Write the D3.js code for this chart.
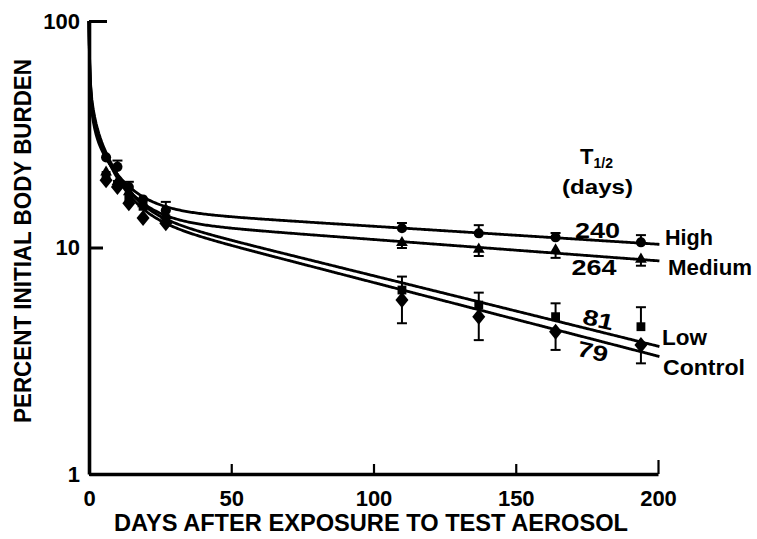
<!DOCTYPE html>
<html>
<head>
<meta charset="utf-8">
<script src="https://cdn.jsdelivr.net/npm/d3@7/dist/d3.min.js"></script>
<style>
  html, body { margin: 0; padding: 0; background: #fff; }
  svg { display: block; }
  text { font-family: "Liberation Sans", Arial, Helvetica, sans-serif; font-weight: bold; fill: #000; }
</style>
</head>
<body>
<svg id="chart" width="757" height="539"></svg>
<script>
// ---- data ----
const groups = ["High", "Medium", "Low", "Control"];
const halfLives = [240, 264, 81, 79];            // terminal T1/2 (days) as annotated
const days = [6, 10, 14, 19, 27, 110, 137, 164, 194];

const highValues    = [25.0, 22.7, 18.5, 16.3, 14.6, 12.16, 11.55, 11.09, 10.54];
const mediumValues  = [21.5, 19.5, 17.6, 15.6, 13.8, 10.50, 9.82, 9.75, 8.87];
const lowValues     = [20.8, 19.0, 16.6, 15.2, 13.4, 6.49, 5.57, 4.95, 4.47];
const controlValues = [19.8, 18.5, 15.7, 13.5, 12.8, 5.87, 4.95, 4.25, 3.71];

// one-sided standard errors (High/Low drawn upward, Medium/Control downward)
const highErr    = [0, 1.5, 1.0, 0, 1.3, 0.67, 1.0, 0.5, 0.8];
const mediumErr  = [0, 0, 0, 0, 0.8, 0.55, 0.65, 0.75, 0.56];
const lowErr     = [0, 0, 0, 0, 0, 0.95, 0.75, 0.72, 0.98];
const controlErr = [0, 0, 0, 0, 0, 1.24, 1.05, 0.72, 0.63];
const errDirection = [1, -1, 1, -1];

// multi-exponential retention fits: % = D e^(-t/0.2) + A e^(-t/tauA) + B e^(-t/tauB) + C 10^(-s t)
const fitSlowIntercept = [14.9, 13.47, 15.36, 14.82];
const fitSlowSlope     = [0.000794, 0.000941, 0.00311, 0.003253]; // log10 units per day
const fitMidAmp        = [19.4, 22.8, 25.4, 24.6];
const fitMidTau        = [9, 9, 7.5, 7.5];
const fitFastAmp       = [16.9, 16.9, 16.9, 16.9];
const fitFastTau       = [1.17, 1.17, 1.17, 1.17];
const fitInitialTau    = 0.2;

const xTicks = [0, 50, 100, 150, 200];
const yTicks = [1, 10, 100];

const seriesValues = [highValues, mediumValues, lowValues, controlValues];
const seriesErr = [highErr, mediumErr, lowErr, controlErr];

// ---- scales ----
const svg = d3.select("#chart");
const x = d3.scaleLinear().domain([0, 200]).range([89, 658]);
const y = d3.scaleLog().domain([1, 100]).range([474, 21]);

function retention(g, t) {
  const C = fitSlowIntercept[g], A = fitFastAmp[g], B = fitMidAmp[g];
  const D = 100 - A - B - C;
  return D * Math.exp(-t / fitInitialTau)
       + A * Math.exp(-t / fitFastTau[g])
       + B * Math.exp(-t / fitMidTau[g])
       + C * Math.pow(10, -fitSlowSlope[g] * t);
}

// ---- axes ----
const xAxis = svg.append("g")
  .attr("transform", `translate(0,${y(1)})`)
  .call(d3.axisBottom(x).tickValues(xTicks).tickSize(-10).tickSizeOuter(0).tickPadding(16)
        .tickFormat(d3.format("d")));
xAxis.selectAll("line").attr("stroke", "#000").attr("stroke-width", 2.2);
xAxis.selectAll(".tick").filter(d => d === 200).select("line").attr("y2", -14);
xAxis.select(".domain").attr("stroke", "#000").attr("stroke-width", 3.4);
xAxis.selectAll("text").style("font-size", "22px").style("font-family", "Liberation Sans, Arial, sans-serif").style("font-weight", "bold");

const yAxis = svg.append("g")
  .attr("transform", `translate(${x(0)},0)`)
  .call(d3.axisLeft(y).tickValues(yTicks).tickSize(-16).tickSizeOuter(0).tickPadding(9)
        .tickFormat(d3.format("d")));
yAxis.selectAll("line").attr("stroke", "#000").attr("stroke-width", 3);
yAxis.selectAll(".tick").filter(d => d === 100).select("line").attr("x2", 18);
yAxis.selectAll(".tick").filter(d => d === 10).select("line").attr("x2", 14);
yAxis.select(".domain").attr("stroke", "#000").attr("stroke-width", 3.6);
yAxis.selectAll("text").style("font-size", "22px").style("font-family", "Liberation Sans, Arial, sans-serif").style("font-weight", "bold");

// axis titles
svg.append("text")
  .attr("x", 371).attr("y", 531)
  .attr("text-anchor", "middle")
  .attr("textLength", 514).attr("lengthAdjust", "spacingAndGlyphs")
  .style("font-size", "24px")
  .text("DAYS AFTER EXPOSURE TO TEST AEROSOL");

svg.append("text")
  .attr("transform", "translate(31,241) rotate(-90)")
  .attr("text-anchor", "middle")
  .attr("textLength", 364).attr("lengthAdjust", "spacingAndGlyphs")
  .style("font-size", "24px")
  .text("PERCENT INITIAL BODY BURDEN");

// ---- fitted curves ----
const tGrid = d3.range(0, 0.5, 0.01).concat(d3.range(0.5, 201, 0.5));
const line = d3.line().x(d => x(d[0])).y(d => y(d[1]));
groups.forEach((name, g) => {
  svg.append("path")
    .datum(tGrid.map(t => [t, retention(g, t)]))
    .attr("fill", "none")
    .attr("stroke", "#000")
    .attr("stroke-width", 2.8)
    .attr("d", line);
});

// ---- error bars ----
groups.forEach((name, g) => {
  const vals = seriesValues[g], errs = seriesErr[g], dir = errDirection[g];
  const eg = svg.append("g");
  days.forEach((d, i) => {
    if (!errs[i]) return;
    const end = vals[i] + dir * errs[i];
    eg.append("line")
      .attr("x1", x(d)).attr("x2", x(d))
      .attr("y1", y(vals[i])).attr("y2", y(end))
      .attr("stroke", "#000").attr("stroke-width", 2);
    eg.append("line")
      .attr("x1", x(d) - 5).attr("x2", x(d) + 5)
      .attr("y1", y(end)).attr("y2", y(end))
      .attr("stroke", "#000").attr("stroke-width", 2);
  });
});

// ---- markers ----
const markerPath = [
  d3.symbol().type(d3.symbolCircle).size(80)(),     // High
  d3.symbol().type(d3.symbolTriangle).size(60)(),   // Medium
  d3.symbol().type(d3.symbolSquare).size(78)(),     // Low
  "M0,-8L6.5,0L0,8L-6.5,0Z"                          // Control
];
groups.forEach((name, g) => {
  svg.append("g").selectAll("path")
    .data(days.map((d, i) => [d, seriesValues[g][i]]))
    .join("path")
    .attr("transform", d => `translate(${x(d[0])},${y(d[1])})`)
    .attr("d", markerPath[g])
    .attr("fill", "#000");
});

// ---- annotations ----
const hdr = svg.append("text").attr("x", 580).attr("y", 164).style("font-size", "22px");
hdr.append("tspan").text("T");
hdr.append("tspan").attr("dy", 4).style("font-size", "14px").text("1/2");

svg.append("text")
  .attr("x", 597.5).attr("y", 194)
  .attr("text-anchor", "middle")
  .attr("textLength", 71).attr("lengthAdjust", "spacingAndGlyphs")
  .style("font-size", "21px")
  .text("(days)");

// half-life labels
const halfLifePos = [
  { x: 597.5, y: 238, rot: 0 },
  { x: 594, y: 275, rot: 0 },
  { x: 596.5, y: 327, rot: 13 },
  { x: 591, y: 359, rot: 13 }
];
halfLives.forEach((h, g) => {
  const p = halfLifePos[g];
  svg.append("text")
    .attr("transform", `translate(${p.x},${p.y}) rotate(${p.rot})`)
    .attr("text-anchor", "middle")
    .attr("textLength", h >= 100 ? 45 : 31).attr("lengthAdjust", "spacingAndGlyphs")
    .style("font-size", "22px")
    .text(h);
});

// group labels at the curve ends
const groupLabelPos = [
  { x: 665, y: 245, w: 48 },
  { x: 668, y: 275, w: 84 },
  { x: 662, y: 345, w: 45 },
  { x: 663, y: 375, w: 82 }
];
groups.forEach((name, g) => {
  const p = groupLabelPos[g];
  svg.append("text")
    .attr("x", p.x).attr("y", p.y)
    .attr("textLength", p.w).attr("lengthAdjust", "spacingAndGlyphs")
    .style("font-size", "22px")
    .text(name);
});
</script>
</body>
</html>
